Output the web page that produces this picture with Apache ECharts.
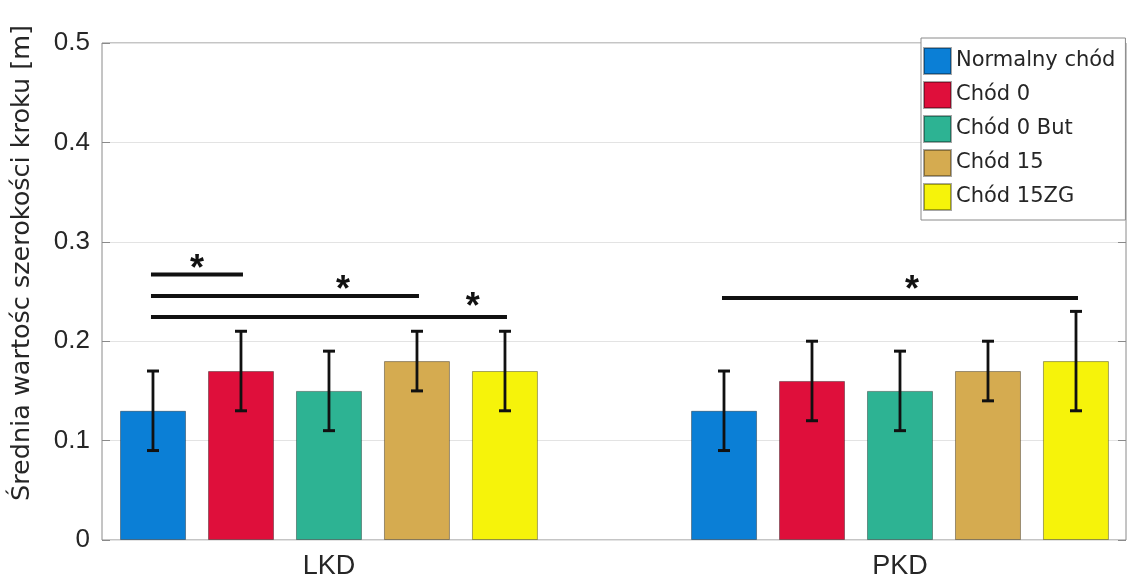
<!DOCTYPE html>
<html><head><meta charset="utf-8">
<script src="https://cdn.jsdelivr.net/npm/echarts@6/dist/echarts.min.js"></script>
<style>html,body{margin:0;padding:0;background:#fff}#c{width:1140px;height:581px}</style>
</head><body><div id="c"></div>
<script>
// ---- data ----
const groups = ['LKD', 'PKD'];
const groupPos = [1, 2];
const seriesNames = ['Normalny chód', 'Chód 0', 'Chód 0 But', 'Chód 15', 'Chód 15ZG'];
const seriesColors = ['#0b7fd6', '#df0f3b', '#2db393', '#d5ab50', '#f6f30a'];
const normalnyMean = [0.13, 0.13];
const chod0Mean = [0.17, 0.16];
const chod0ButMean = [0.15, 0.15];
const chod15Mean = [0.18, 0.17];
const chod15ZGMean = [0.17, 0.18];
const normalnyErr = [0.04, 0.04];
const chod0Err = [0.04, 0.04];
const chod0ButErr = [0.04, 0.04];
const chod15Err = [0.03, 0.03];
const chod15ZGErr = [0.04, 0.05];
const yTicks = [0, 0.1, 0.2, 0.3, 0.4, 0.5];
// significance bars: [groupIndex, fromSeries, toSeries, yValue]
const sigLines = [[0, 0, 1, 0.267], [0, 0, 3, 0.2455], [0, 0, 4, 0.2243], [1, 0, 4, 0.2435]];
// asterisks: [xValue, yValue]
const sigStars = [[0.769, 0.280], [1.0245, 0.2586], [1.252, 0.2414], [2.021, 0.2586]];
const yLabel = 'Średnia wartośc szerokości kroku [m]';

// ---- build ----
const means = [normalnyMean, chod0Mean, chod0ButMean, chod15Mean, chod15ZGMean];
const errs = [normalnyErr, chod0Err, chod0ButErr, chod15Err, chod15ZGErr];
const BAR_W = 66, BAR_GAP = 22, BAR_STEP = BAR_W + BAR_GAP;
const AXIS_C = '#8a8a8a', TEXT_C = '#262626';

const series = [];
seriesNames.forEach((name, i) => {
  series.push({
    type: 'bar', name, barWidth: BAR_W, barGap: (BAR_GAP / BAR_W * 100).toFixed(1) + '%',
    itemStyle: { color: seriesColors[i], borderColor: 'rgba(0,0,0,0.35)', borderWidth: 1 },
    data: groupPos.map((g, j) => [g, means[i][j]]), z: 2
  });
});
seriesNames.forEach((name, i) => {
  series.push({
    type: 'custom', name: name + ' err', z: 5, silent: true,
    data: groupPos.map((g, j) => [g, means[i][j], errs[i][j]]),
    renderItem: (params, api) => {
      const g = api.value(0), m = api.value(1), e = api.value(2);
      const top = api.coord([g, m + e]), bot = api.coord([g, m - e]);
      const x = top[0] + (i - 2) * BAR_STEP;
      const st = { stroke: '#111', lineWidth: 2.8 };
      return { type: 'group', children: [
        { type: 'line', shape: { x1: x, y1: top[1], x2: x, y2: bot[1] }, style: st },
        { type: 'line', shape: { x1: x - 6, y1: top[1], x2: x + 6, y2: top[1] }, style: { stroke: '#111', lineWidth: 3 } },
        { type: 'line', shape: { x1: x - 6, y1: bot[1], x2: x + 6, y2: bot[1] }, style: { stroke: '#111', lineWidth: 3 } }
      ] };
    }
  });
});
series.push({
  type: 'custom', name: 'sig', z: 6, silent: true,
  data: sigLines,
  renderItem: (params, api) => {
    const g = groupPos[api.value(0)], a = api.value(1), b = api.value(2), y = api.value(3);
    const p = api.coord([g, y]);
    return { type: 'line', shape: { x1: p[0] + (a - 2) * BAR_STEP, y1: p[1], x2: p[0] + (b - 2) * BAR_STEP, y2: p[1] },
      style: { stroke: '#111', lineWidth: 4, lineCap: 'square' } };
  }
});
series.push({
  type: 'custom', name: 'stars', z: 6, silent: true,
  data: sigStars,
  renderItem: (params, api) => {
    const p = api.coord([api.value(0), api.value(1)]);
    return { type: 'text', x: p[0], y: p[1] + 8,
      style: { text: '*', fontSize: 36, fontWeight: 'bold', fontFamily: 'Liberation Sans', fill: '#111', align: 'center', verticalAlign: 'middle' } };
  }
});

const chart = echarts.init(document.getElementById('c'), null, { renderer: 'canvas' });
chart.setOption({
  animation: false,
  backgroundColor: '#fff',
  grid: { left: 102, right: 14, top: 43, bottom: 41, show: true, borderColor: AXIS_C, borderWidth: 1, backgroundColor: 'transparent' },
  legend: {
    data: seriesNames, orient: 'vertical', left: 921, top: 38, icon: 'rect',
    itemWidth: 27, itemHeight: 26, itemGap: 6, padding: [9, 10, 9, 2], selectedMode: false,
    backgroundColor: '#fff', borderColor: AXIS_C, borderWidth: 1, borderRadius: 0,
    textStyle: { fontSize: 21, fontFamily: 'DejaVu Sans', color: TEXT_C }
  },
  xAxis: {
    type: 'value', min: 0.6025, max: 2.3958,
    axisLine: { show: false }, axisTick: { show: false }, splitLine: { show: false },
    axisLabel: { customValues: groupPos, formatter: v => groups[groupPos.indexOf(v)] || '',
      fontSize: 27, fontFamily: 'Liberation Sans', color: TEXT_C, margin: 13 }
  },
  yAxis: [{
    type: 'value', min: yTicks[0], max: yTicks[yTicks.length - 1], interval: 0.1,
    axisLine: { show: false },
    axisTick: { show: true, inside: true, length: 8, lineStyle: { color: AXIS_C } },
    splitLine: { show: true, lineStyle: { color: '#e3e3e3', width: 1 } },
    axisLabel: { fontSize: 26, fontFamily: 'Liberation Sans', color: TEXT_C, margin: 12 }
  }, {
    type: 'value', position: 'right', min: yTicks[0], max: yTicks[yTicks.length - 1], interval: 0.1,
    axisLine: { show: false }, axisLabel: { show: false }, splitLine: { show: false },
    axisTick: { show: true, inside: true, length: 8, lineStyle: { color: AXIS_C } }
  }],
  graphic: [{
    type: 'text', x: 22, y: 263, rotation: Math.PI / 2,
    style: { text: yLabel, fontSize: 25.5, fontFamily: 'DejaVu Sans', fill: TEXT_C, align: 'center', verticalAlign: 'middle' }
  }],
  series
});
</script></body></html>
